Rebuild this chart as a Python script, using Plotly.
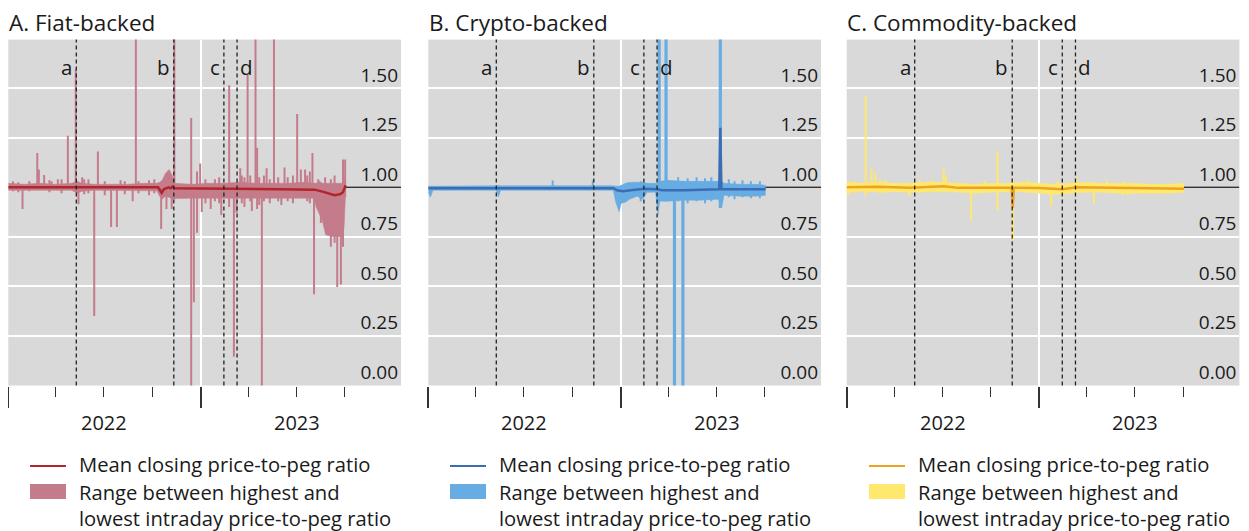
import plotly.graph_objects as go

# ---------------- data ----------------
event_dates = ["2022-05-10", "2022-11-11", "2023-02-14", "2023-03-11"]
event_labels = ["a", "b", "c", "d"]
year_labels = ["2022", "2023"]
year_mid = ["2022-07-02", "2023-07-02"]
y_ticks = [0.0, 0.25, 0.5, 0.75, 1.0, 1.25, 1.5]
x_range = ["2022-01-01", "2024-01-16"]
peg = [1.0, 1.0]

# Panel A: fiat-backed
band_a_dates = ["2022-01-01", "2022-02-01", "2022-03-01", "2022-04-01", "2022-05-01", "2022-05-12",
                "2022-05-20", "2022-06-15", "2022-07-15", "2022-08-15", "2022-09-15", "2022-10-10",
                "2022-10-15", "2022-10-20", "2022-10-26", "2022-11-02", "2022-11-08", "2022-11-12",
                "2022-12-15", "2023-01-15", "2023-02-15", "2023-03-15", "2023-04-15", "2023-05-15",
                "2023-06-15", "2023-07-15", "2023-08-04", "2023-08-08", "2023-08-14", "2023-08-20",
                "2023-08-26", "2023-09-10", "2023-09-26", "2023-09-30", "2023-10-03"]
band_a_high = [1.02, 1.015, 1.02, 1.015, 1.02, 1.03, 1.02, 1.015, 1.015, 1.015, 1.02, 1.02,
               1.025, 1.035, 1.07, 1.09, 1.06, 1.02, 1.015, 1.02, 1.02, 1.025, 1.02, 1.02,
               1.02, 1.025, 1.02, 1.02, 1.03, 1.02, 1.02, 1.02, 1.02, 1.05, 1.02]
band_a_low = [0.985, 0.985, 0.988, 0.985, 0.985, 0.97, 0.98, 0.985, 0.985, 0.985, 0.985, 0.982,
              0.955, 0.94, 0.955, 0.95, 0.94, 0.943, 0.945, 0.945, 0.945, 0.945, 0.945, 0.945,
              0.945, 0.945, 0.945, 0.90, 0.86, 0.83, 0.76, 0.75, 0.75, 0.80, 0.98]
spike_a_dates = ["2022-01-10", "2022-01-20", "2022-01-28", "2022-02-10", "2022-02-25", "2022-02-28",
                 "2022-03-10", "2022-03-20", "2022-03-24", "2022-04-05", "2022-04-12", "2022-04-24",
                 "2022-05-09", "2022-05-14", "2022-05-21", "2022-05-25", "2022-06-02", "2022-06-13",
                 "2022-06-20", "2022-07-03", "2022-07-15", "2022-07-26", "2022-08-02", "2022-08-10",
                 "2022-08-25", "2022-08-31", "2022-09-05", "2022-09-25", "2022-10-05", "2022-10-18",
                 "2022-10-28", "2022-11-07", "2022-11-12", "2022-12-14", "2022-12-19", "2022-12-25",
                 "2022-12-31", "2023-01-03", "2023-01-10", "2023-01-20", "2023-01-28", "2023-02-05",
                 "2023-02-09", "2023-02-24", "2023-03-05", "2023-03-10", "2023-03-17", "2023-03-20",
                 "2023-03-25", "2023-03-31", "2023-04-05", "2023-04-08", "2023-04-15", "2023-04-18",
                 "2023-04-22", "2023-04-27", "2023-05-01", "2023-05-06", "2023-05-12", "2023-05-20",
                 "2023-05-28", "2023-06-03", "2023-06-09", "2023-06-15", "2023-06-25", "2023-07-03",
                 "2023-07-10", "2023-07-18", "2023-07-22", "2023-07-27", "2023-08-01", "2023-08-04",
                 "2023-08-12", "2023-08-17", "2023-08-25", "2023-09-05", "2023-09-12", "2023-09-17",
                 "2023-09-24", "2023-09-28", "2023-10-02"]
spike_a_high = [1.03, 1.025, 1.0, 1.03, 1.173, 1.09,
                1.062, 1.035, 1.03, 1.04, 1.04, 1.26,
                1.596, 1.02, 1.05, 1.04, 1.04, 1.0,
                1.18, 1.03, 1.0, 1.0, 1.035, 1.03,
                1.0, 2.5, 1.03, 1.035, 1.04, 1.0,
                1.0, 1.0, 2.5, 1.35, 1.0, 1.08,
                1.12, 1.0, 1.04, 1.0, 1.04, 1.05,
                1.0, 1.515, 1.0, 1.0, 1.096, 1.06,
                1.05, 1.57, 1.06, 1.0, 2.5, 1.2,
                1.05, 1.0, 1.06, 1.096, 1.04, 1.9,
                1.05, 1.0, 1.10, 1.05, 1.06, 1.37,
                1.09, 1.09, 1.06, 1.08, 1.173, 1.0,
                1.04, 1.0, 1.05, 1.04, 1.06, 1.0,
                1.0, 1.14, 1.14]
spike_a_low = [0.98, 0.975, 0.89, 0.98, 0.99, 0.99,
               0.99, 0.975, 0.985, 0.985, 0.97, 0.99,
               0.99, 0.915, 0.98, 0.965, 0.97, 0.35,
               0.99, 0.96, 0.80, 0.80, 0.99, 0.965,
               0.93, 0.99, 0.97, 0.96, 0.97, 0.79,
               0.89, 0.89, 0.94, -0.1, 0.42, 0.77,
               0.95, 0.875, 0.92, 0.89, 0.93, 0.92,
               0.86, 0.90, 0.145, 0.87, 0.95, 0.92,
               0.90, 0.95, 0.93, 0.88, 0.95, 0.89,
               0.91, -0.1, 0.93, 0.95, 0.92, 0.95,
               0.93, 0.91, 0.95, 0.93, 0.92, 0.95,
               0.95, 0.95, 0.93, 0.92, 0.95, 0.46,
               0.90, 0.82, 0.80, 0.70, 0.72, 0.497,
               0.51, 0.70, 0.95]
mean_a_dates = ["2022-01-01", "2022-10-12", "2022-10-16", "2022-10-19", "2022-10-23", "2022-11-01",
                "2022-11-05", "2022-11-08", "2022-11-12", "2022-12-15", "2023-03-01", "2023-06-01",
                "2023-08-05", "2023-08-20", "2023-09-01", "2023-09-12", "2023-09-22", "2023-09-28",
                "2023-10-03"]
mean_a = [1.0, 1.0, 0.985, 0.972, 0.99, 1.0, 0.995, 1.003, 0.995, 0.993, 0.992, 0.99,
          0.988, 0.978, 0.967, 0.96, 0.965, 0.975, 1.01]

# Panel B: crypto-backed
band_b_dates = ["2022-01-01", "2022-01-05", "2022-01-10", "2022-05-10", "2022-05-14", "2022-05-18",
                "2022-12-18", "2022-12-22", "2022-12-29", "2023-01-02", "2023-01-10", "2023-01-18",
                "2023-02-01", "2023-02-12", "2023-02-20", "2023-03-08", "2023-03-13", "2023-03-16",
                "2023-04-01", "2023-05-01", "2023-06-01", "2023-07-05", "2023-07-12", "2023-07-16",
                "2023-08-15", "2023-09-15", "2023-10-03"]
band_b_high = [1.005, 1.005, 1.005, 1.008, 1.01, 1.008, 1.008, 1.005, 1.005, 1.01, 1.02, 1.025,
               1.025, 1.025, 1.02, 1.02, 1.02, 1.03, 1.035, 1.03, 1.03, 1.03, 1.03, 1.02,
               1.015, 1.015, 1.01]
band_b_low = [0.975, 0.95, 0.985, 0.985, 0.95, 0.985, 0.985, 0.93, 0.876, 0.92, 0.925, 0.94,
              0.955, 0.94, 0.975, 0.975, 0.86, 0.93, 0.93, 0.935, 0.935, 0.94, 0.90, 0.96,
              0.955, 0.955, 0.96]
spike_b_major_dates = ["2023-03-15", "2023-03-28", "2023-04-13", "2023-04-29", "2023-07-09"]
spike_b_major_high = [3.0, 3.0, 1.03, 1.03, 3.0]
spike_b_major_low = [0.93, 0.93, -0.5, -0.5, 0.896]
spike_b_minor_dates = ["2022-08-25", "2022-11-09", "2023-02-08", "2023-04-20", "2023-05-08",
                       "2023-05-25", "2023-06-10", "2023-06-22", "2023-07-25", "2023-08-05",
                       "2023-08-20", "2023-09-05", "2023-09-22"]
spike_b_minor_high = [1.034, 1.034, 1.03, 1.05, 1.045, 1.05, 1.045, 1.05, 1.04, 1.03, 1.035, 1.03, 1.03]
spike_b_minor_low = [0.99, 0.985, 0.93, 0.93, 0.92, 0.93, 0.92, 0.93, 0.95, 0.94, 0.95, 0.945, 0.945]
mean_b_dates = ["2022-01-01", "2022-12-18", "2022-12-25", "2023-01-05", "2023-01-20", "2023-02-15",
                "2023-03-12", "2023-03-20", "2023-05-01", "2023-07-07", "2023-07-09", "2023-07-11",
                "2023-08-15", "2023-10-03"]
mean_b = [0.995, 0.995, 0.985, 0.98, 0.985, 0.993, 0.99, 0.985, 0.985, 0.99, 1.30, 0.99, 0.99, 0.99]

# Panel C: commodity-backed
band_c_dates = ["2022-01-01", "2022-02-01", "2022-03-01", "2022-04-01", "2022-05-01", "2022-06-01",
                "2022-07-01", "2022-08-01", "2022-09-01", "2022-10-01", "2022-11-01", "2022-12-01",
                "2023-01-01", "2023-02-01", "2023-03-01", "2023-04-01", "2023-05-01", "2023-06-01",
                "2023-07-01", "2023-08-01", "2023-09-01", "2023-10-03"]
band_c_high = [1.025, 1.02, 1.025, 1.02, 1.02, 1.025, 1.025, 1.02, 1.015, 1.02, 1.02, 1.025,
               1.02, 1.015, 1.02, 1.025, 1.02, 1.02, 1.02, 1.015, 1.015, 1.02]
band_c_low = [0.975, 0.98, 0.975, 0.978, 0.975, 0.978, 0.98, 0.975, 0.97, 0.975, 0.975, 0.978,
              0.97, 0.965, 0.97, 0.975, 0.975, 0.97, 0.97, 0.97, 0.97, 0.975]
spike_c_dates = ["2022-01-04", "2022-01-18", "2022-02-06", "2022-02-17", "2022-02-24", "2022-03-05",
                 "2022-03-15", "2022-04-29", "2022-05-20", "2022-06-10", "2022-07-04", "2022-07-08",
                 "2022-08-25", "2022-09-20", "2022-10-14", "2022-11-12", "2022-12-10", "2023-01-24",
                 "2023-02-05", "2023-02-14", "2023-03-14", "2023-04-15", "2023-05-10", "2023-06-10",
                 "2023-06-18"]
spike_c_high = [1.03, 1.03, 1.458, 1.093, 1.072, 1.04, 1.035, 1.02, 1.035, 1.035, 1.093, 1.06,
                1.0, 1.035, 1.181, 1.042, 1.035, 1.0, 1.03, 1.0, 1.042, 1.0, 1.035, 1.03, 1.02]
spike_c_low = [0.96, 0.97, 0.955, 0.98, 0.98, 0.98, 0.97, 0.955, 0.97, 0.975, 0.97, 0.98,
               0.834, 0.975, 0.884, 0.733, 0.97, 0.904, 0.97, 0.947, 0.97, 0.918, 0.97, 0.96, 0.96]
mean_c_dates = ["2022-01-01", "2022-02-06", "2022-03-01", "2022-05-01", "2022-07-04", "2022-08-01",
                "2022-11-10", "2022-11-12", "2022-11-14", "2023-01-01", "2023-02-14", "2023-03-15",
                "2023-06-01", "2023-10-03"]
mean_c = [1.0, 1.0, 1.003, 0.998, 1.005, 0.997, 0.998, 0.896, 0.998, 0.996, 0.99, 1.0, 0.996, 0.993]

titles = ["A. Fiat-backed", "B. Crypto-backed", "C. Commodity-backed"]
legend_mean = "Mean closing price-to-peg ratio"
legend_range = "Range between highest and<br>lowest intraday price-to-peg ratio"

# ---------------- styling ----------------
OFF = 8  # the page body adds an 8px margin; positions below are window pixels
W, H = 1249 - OFF, 531 - OFF
FONT = "Open Sans"
TXT = "#1a1a1a"
band_colors = ["#c47c8b", "#67ade4", "#ffe86e"]
mean_colors = ["#b0262b", "#3b6db3", "#eea21f"]
panel_left = [8.3, 428.3, 846.7]
panel_w = 392.7
plot_top, plot_bot = 39.6, 385.5
legend_off = [0, 420, 839]
LEG_FS = 20.2


def px(p):
    return (p - OFF) / W


def py(p):
    return 1 - (p - OFF) / H


def segments(dates, highs, lows):
    xs, ys = [], []
    for d, h, l in zip(dates, highs, lows):
        xs += [d, d, None]
        ys += [l, h, None]
    return xs, ys


panels = [
    dict(bd=band_a_dates, bh=band_a_high, bl=band_a_low,
         spikes=[(spike_a_dates, spike_a_high, spike_a_low, 2)],
         md=mean_a_dates, mv=mean_a),
    dict(bd=band_b_dates, bh=band_b_high, bl=band_b_low,
         spikes=[(spike_b_minor_dates, spike_b_minor_high, spike_b_minor_low, 2),
                 (spike_b_major_dates, spike_b_major_high, spike_b_major_low, 3.2)],
         md=mean_b_dates, mv=mean_b),
    dict(bd=band_c_dates, bh=band_c_high, bl=band_c_low,
         spikes=[(spike_c_dates, spike_c_high, spike_c_low, 2)],
         md=mean_c_dates, mv=mean_c),
]

fig = go.Figure()
shapes, annotations = [], []
layout = {}

for i, p in enumerate(panels):
    sfx = "" if i == 0 else str(i + 1)
    xa, ya = "x" + sfx, "y" + sfx
    bc, mc = band_colors[i], mean_colors[i]
    # peg reference line at 1.00 (beneath the data)
    fig.add_trace(go.Scatter(x=x_range, y=peg, mode="lines", line=dict(width=1.5, color="#333333"),
                             xaxis=xa, yaxis=ya, showlegend=False, hoverinfo="skip"))
    fig.add_trace(go.Scatter(x=p["bd"], y=p["bl"], mode="lines", line=dict(width=0.5, color=bc),
                             xaxis=xa, yaxis=ya, showlegend=False, hoverinfo="skip"))
    fig.add_trace(go.Scatter(x=p["bd"], y=p["bh"], mode="lines", line=dict(width=0.5, color=bc),
                             fill="tonexty", fillcolor=bc, xaxis=xa, yaxis=ya,
                             showlegend=False, hoverinfo="skip"))
    for (sd, sh, sl, sw) in p["spikes"]:
        sx, sy = segments(sd, sh, sl)
        fig.add_trace(go.Scatter(x=sx, y=sy, mode="lines", line=dict(width=sw, color=bc),
                                 xaxis=xa, yaxis=ya, showlegend=False, hoverinfo="skip",
                                 connectgaps=False))
    fig.add_trace(go.Scatter(x=p["md"], y=p["mv"], mode="lines", line=dict(width=2.5, color=mc),
                             xaxis=xa, yaxis=ya, showlegend=False, hoverinfo="skip"))

    x0 = panel_left[i]
    layout["xaxis" + sfx] = dict(
        domain=[px(x0), px(x0 + panel_w)], anchor=ya, type="date", range=x_range,
        tickmode="array", tickvals=["2022-01-01", "2023-01-01"], ticktext=["", ""],
        ticks="outside", ticklen=21, tickwidth=1.8, tickcolor="#333333",
        showgrid=True, gridcolor="white", gridwidth=1.5, zeroline=False, showline=False,
        minor=dict(tickmode="array",
                   tickvals=["2022-04-01", "2022-07-01", "2022-10-01",
                             "2023-04-01", "2023-07-01", "2023-10-01"],
                   ticks="outside", ticklen=10, tickwidth=1.3, tickcolor="#333333", showgrid=False),
        fixedrange=True,
    )
    layout["yaxis" + sfx] = dict(
        domain=[py(plot_bot), py(plot_top)], anchor=xa, range=[0, 1.745], side="right",
        tickmode="array", tickvals=y_ticks, ticktext=["%.2f" % v for v in y_ticks],
        ticks="", ticklabelposition="inside top",
        tickfont=dict(size=19, color=TXT, family=FONT),
        showgrid=True, gridcolor="white", gridwidth=1.5, zeroline=False, showline=False,
        fixedrange=True,
    )

    # event lines
    for d, lab in zip(event_dates, event_labels):
        shapes.append(dict(type="line", xref=xa, yref="paper", x0=d, x1=d,
                           y0=py(plot_bot), y1=py(plot_top),
                           line=dict(color="#222222", width=1.3, dash="4px,3px"), layer="above"))
        right = lab == "d"
        annotations.append(dict(x=d, xref=xa, y=py(67), yref="paper", text=lab, showarrow=False,
                                xanchor="left" if right else "right", yanchor="middle",
                                xshift=1 if right else -2,
                                font=dict(size=20.5, color=TXT, family=FONT)))
    # year labels
    for ym, yl in zip(year_mid, year_labels):
        annotations.append(dict(x=ym, xref=xa, y=py(422), yref="paper", text=yl, showarrow=False,
                                xanchor="center", yanchor="middle",
                                font=dict(size=20, color=TXT, family=FONT)))
    # title
    annotations.append(dict(x=px(x0 - 1.5), xref="paper", y=py(22.5), yref="paper", text=titles[i],
                            showarrow=False, xanchor="left", yanchor="middle",
                            font=dict(size=22.5, color=TXT, family=FONT)))
    # legend (drawn manually)
    lo = legend_off[i]
    shapes.append(dict(type="line", xref="paper", yref="paper", x0=px(30 + lo), x1=px(66 + lo),
                       y0=py(466), y1=py(466), line=dict(color=mc, width=2.2)))
    shapes.append(dict(type="rect", xref="paper", yref="paper", x0=px(30 + lo), x1=px(66 + lo),
                       y0=py(499), y1=py(484), line=dict(width=0), fillcolor=bc))
    annotations.append(dict(x=px(77 + lo), xref="paper", y=py(464), yref="paper", text=legend_mean,
                            showarrow=False, xanchor="left", yanchor="middle",
                            font=dict(size=LEG_FS, color=TXT, family=FONT)))
    annotations.append(dict(x=px(77 + lo), xref="paper", y=py(504.5), yref="paper",
                            text=legend_range, showarrow=False, xanchor="left", yanchor="middle",
                            align="left", font=dict(size=LEG_FS, color=TXT, family=FONT)))

fig.update_layout(
    width=W, height=H, margin=dict(l=0, r=0, t=0, b=0),
    paper_bgcolor="white", plot_bgcolor="#d9d9d9",
    font=dict(family=FONT, color=TXT), showlegend=False,
    shapes=shapes, annotations=annotations, **layout,
)

fig.write_html("out.html")
